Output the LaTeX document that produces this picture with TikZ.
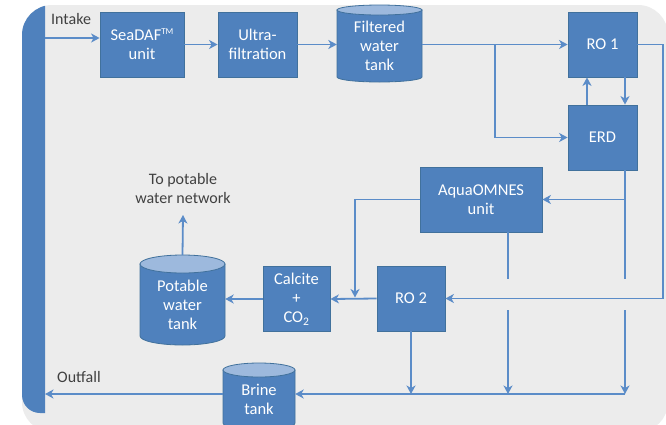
\documentclass[tikz,border=0pt]{standalone}
\usepackage{fontspec}
\setmainfont{Carlito}
\usetikzlibrary{arrows.meta}

\definecolor{panel}{HTML}{ECECEC}
\definecolor{boxblue}{HTML}{4F81BD}
\definecolor{boxedge}{HTML}{41719C}
\definecolor{flowblue}{HTML}{5B8CC8}
\definecolor{lidblue}{HTML}{9DB9DD}
\definecolor{labelgray}{HTML}{404040}

% cylinder tank: left, right, top, bottom, lid half-height
\newcommand{\tankdraw}[5]{%
  \pgfmathsetmacro{\tankrx}{(#2-#1)/2}%
  \pgfmathsetmacro{\tankcx}{(#1+#2)/2}%
  \filldraw[tankbody] (#1,#3+#5) -- (#1,#4-#5)
    arc[start angle=180, end angle=360, x radius=\tankrx pt, y radius=#5pt]
    -- (#2,#3+#5) -- cycle;
  \filldraw[tanklid] (\tankcx,#3+#5) ellipse[x radius=\tankrx pt, y radius=#5pt];
}
% small raised trademark sign
\newcommand{\tmsign}{\raisebox{0.75ex}{\fontsize{9}{9}\selectfont TM}}

\tikzset{
  box/.style={draw=boxedge, line width=0.8pt, fill=boxblue, text=white,
    align=center, inner sep=0pt, font=\fontsize{16.5}{19}\selectfont},
  tanklabel/.style={text=white, align=center, inner sep=0pt,
    font=\fontsize{16.5}{19}\selectfont},
  tankbody/.style={fill=boxblue, draw=boxedge, line width=0.8pt},
  tanklid/.style={fill=lidblue, draw=boxedge, line width=0.8pt},
  note/.style={text=labelgray, align=center, inner sep=0pt,
    font=\fontsize{16}{19}\selectfont},
  flowline/.style={draw=flowblue, line width=1.8pt},
  flow/.style={flowline, -{Stealth[length=8.5pt, width=9pt, inset=2.5pt]}},
}

\begin{document}
\begin{tikzpicture}[x=1pt, y=-1pt]
\useasboundingbox (0,0) rectangle (666,424);
\fill[white] (0,0) rectangle (666,424);

% rounded panel and the sea bar on its left
\fill[panel, rounded corners=30pt] (22,5) rectangle (668,432);
\begin{scope}
  \clip[rounded corners=30pt] (22,5) rectangle (668,432);
  \fill[boxblue] (45,0) -- (45,413) -- (40,413)
    arc[start angle=270, end angle=180, radius=18pt] -- (22,0) -- cycle;
\end{scope}

% tanks
\tankdraw{337}{422}{5}{82}{5}
\tankdraw{140}{225}{255}{345}{9}
\tankdraw{223}{295}{363}{430}{7}

% process units
\node[box, minimum width=84pt, minimum height=65pt] (sea) at (142,44.5) {SeaDAF\tmsign\\unit};
\node[box, minimum width=79pt, minimum height=65pt] (ultra) at (257.5,44.5) {Ultra-\\filtration};
\node[tanklabel, minimum width=85pt, minimum height=72pt] (ftank) at (379.5,46) {Filtered\\water\\tank};
\node[box, minimum width=69pt, minimum height=65pt] (ro1) at (602.5,44.5) {RO 1};
\node[box, minimum width=69pt, minimum height=65pt] (erd) at (602.5,137.5) {ERD};
\node[box, minimum width=122pt, minimum height=65pt] (aqua) at (481,199.5) {AquaOMNES\\unit};
\node[box, minimum width=68pt, minimum height=65pt] (ro2) at (411,298.5) {RO 2};
\node[box, minimum width=67pt, minimum height=65pt] (calcite) at (296.5,299) {Calcite\\+\\CO\textsubscript{2}};
\node[tanklabel, minimum width=85pt, minimum height=81pt] (potable) at (182.5,304.5) {Potable\\water\\tank};
\node[tanklabel, minimum width=72pt, minimum height=58pt] (brine) at (259,399) {Brine\\tank};

% labels
\node[note, anchor=west] (intakelbl) at (51,19) {Intake};
\node[note, anchor=west] (outfalllbl) at (57,377) {Outfall};
\node[note] (network) at (183,188) {To potable\\water network};

% helper points
\coordinate (intake) at (45,38);
\coordinate (barright) at (45,0);
\coordinate (split) at (495,44.5);
\coordinate (rimtop) at (663,44.5);
\coordinate (bypass) at (355,0);
\coordinate (hopTop) at (0,279);
\coordinate (hopBot) at (0,310);
\coordinate (brineline) at (0,394);
\coordinate (erdout) at ([xshift=22.5pt]erd.south);
\coordinate (aquaout) at ([xshift=27pt]aqua.south);

% pretreatment train
\draw[flow] (intake) -- (intake -| sea.west);
\draw[flow] (sea.east) -- (ultra.west);
\draw[flow] (ultra.east) -- (ultra.east -| ftank.west);
\draw[flow] (ftank.east |- ro1.west) -- (ro1.west);
\draw[flow] (split) |- (erd.west);

% RO 1 and energy recovery
\draw[flow] ([xshift=-15.5pt]erd.north) -- ([xshift=-15.5pt]ro1.south);
\draw[flow] ([xshift=22.5pt]ro1.south) -- ([xshift=22.5pt]erd.north);
\draw[flow] (ro1.east) -- (rimtop) |- (ro2.east);

% ERD brine and AquaOMNES feed
\draw[flowline] (erdout) -- (erdout |- hopTop);
\draw[flow] (erdout |- aqua.east) -- (aqua.east);
\draw[flow] (erdout |- hopBot) -- (erdout |- brineline);

% AquaOMNES outlets
\draw[flowline] (aquaout) -- (aquaout |- hopTop);
\draw[flow] (aquaout |- hopBot) -- (aquaout |- brineline);
\draw[flow] (aqua.west) -| ([yshift=1pt]bypass |- ro2.west);

% product line
\draw[flow] (ro2.west) -- (calcite.east);
\draw[flow] (calcite.west) -- (calcite.west -| potable.east);
\draw[flow] ([yshift=9pt]potable.north) -- (network.south |- 0,215);

% brine collection and outfall
\draw[flow] (ro2.south) -- (ro2.south |- brineline);
\draw[flow] (erdout |- brineline) -- (brine.east |- brineline);
\draw[flow] (brine.west |- brineline) -- (brineline -| barright);
\end{tikzpicture}
\end{document}
